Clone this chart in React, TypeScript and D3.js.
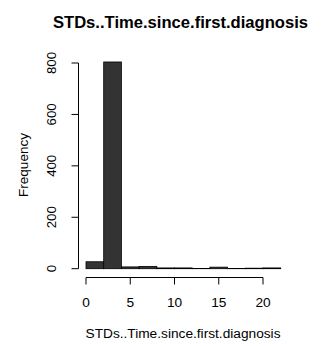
import React from "react";
import * as d3 from "d3";

const binEdges = [0, 2, 4, 6, 8, 10, 12, 14, 16, 18, 20, 22];
const counts = [27, 804, 7, 9, 3, 3, 1, 6, 1, 2, 3];
const xTicks = [0, 5, 10, 15, 20];
const yTicks = [0, 200, 400, 600, 800];
const title = "STDs..Time.since.first.diagnosis";
const xLabel = "STDs..Time.since.first.diagnosis";
const yLabel = "Frequency";

export default function App() {
  const W = 324, H = 346;
  const x = d3.scaleLinear().domain([0, 20]).range([86, 263]);
  const y = d3.scaleLinear().domain([0, 800]).range([268.7, 63]);
  const font = "Liberation Sans, Arial, Helvetica, sans-serif";
  return (
    <svg width={W} height={H} style={{ position: "absolute", left: 0, top: 0, background: "#fff" }} fontFamily={font}>
      <text x={180.5} y={28} textAnchor="middle" fontWeight="bold" fontSize={16.6}>{title}</text>
      {counts.map((c, i) => (
        <rect key={i} x={x(binEdges[i])} y={y(c)} width={x(binEdges[i + 1]) - x(binEdges[i])}
          height={y(0) - y(c)} fill="#333333" stroke="#000" strokeWidth={0.8} />
      ))}
      <line x1={78.5} x2={78.5} y1={y(0)} y2={y(800)} stroke="#000" />
      {yTicks.map(t => (
        <g key={t}>
          <line x1={71.5} x2={78.5} y1={y(t)} y2={y(t)} stroke="#000" />
          <text transform={`translate(56,${y(t)}) rotate(-90)`} textAnchor="middle" fontSize={13.2}>{t}</text>
        </g>
      ))}
      <line x1={x(0)} x2={x(20)} y1={277.5} y2={277.5} stroke="#000" />
      {xTicks.map(t => (
        <g key={t}>
          <line x1={x(t)} x2={x(t)} y1={277.5} y2={284.5} stroke="#000" />
          <text x={x(t)} y={307} textAnchor="middle" fontSize={13.7}>{t}</text>
        </g>
      ))}
      <text x={183} y={338} textAnchor="middle" fontSize={13.7}>{xLabel}</text>
      <text transform={`translate(27.5,165) rotate(-90)`} textAnchor="middle" fontSize={13.5}>{yLabel}</text>
    </svg>
  );
}
